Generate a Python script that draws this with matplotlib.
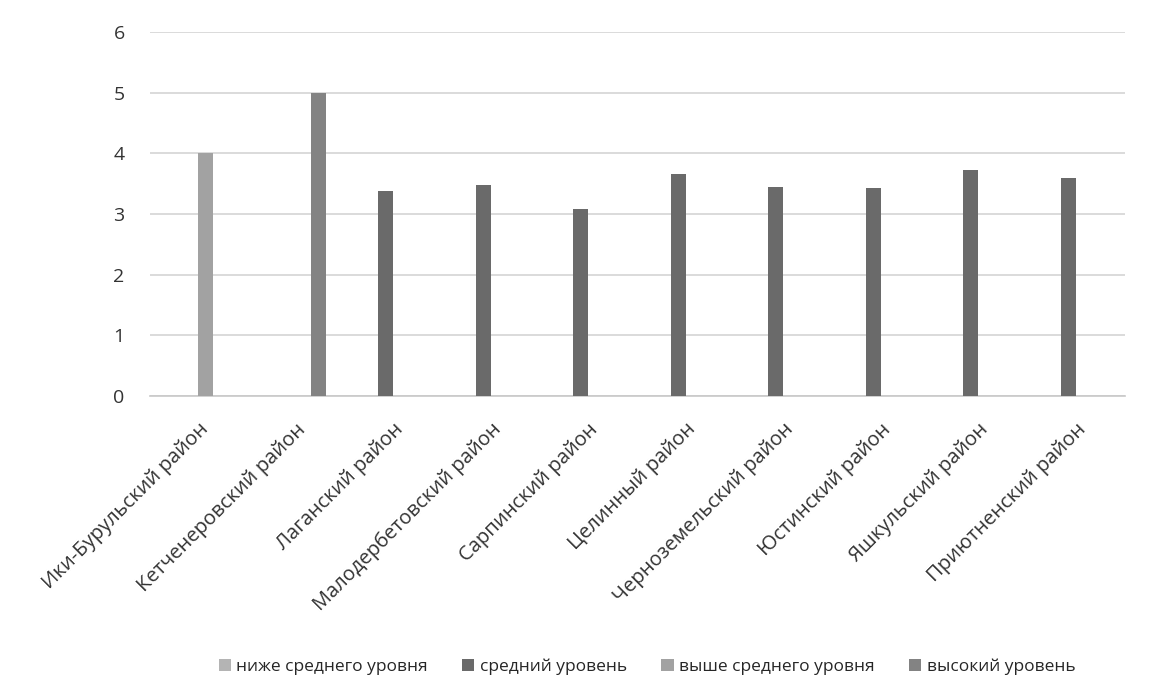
import matplotlib
matplotlib.use("Agg")
import matplotlib.pyplot as plt
import numpy as np

# Данные
districts = ["Ики-Бурульский район", "Кетченеровский район", "Лаганский район",
             "Малодербетовский район", "Сарпинский район", "Целинный район",
             "Черноземельский район", "Юстинский район", "Яшкульский район",
             "Приютненский район"]
series_names = ["ниже среднего уровня", "средний уровень",
                "выше среднего уровня", "высокий уровень"]
below_avg = [0, 0, 0, 0, 0, 0, 0, 0, 0, 0]
average = [0, 0, 3.38, 3.48, 3.08, 3.66, 3.45, 3.43, 3.72, 3.6]
above_avg = [4.0, 0, 0, 0, 0, 0, 0, 0, 0, 0]
high = [0, 5.0, 0, 0, 0, 0, 0, 0, 0, 0]

colors = ["#b4b4b4", "#6a6a6a", "#a2a2a2", "#838383"]

plt.rcParams['font.family'] = ['Open Sans', 'DejaVu Sans']

fig = plt.figure(figsize=(11.51, 6.97), dpi=100)
ax = fig.add_axes([0.130, 0.432, 0.847, 0.522])

x = np.arange(len(districts))
w = 0.155
for i, (vals, name, c) in enumerate(zip([below_avg, average, above_avg, high], series_names, colors)):
    ax.bar(x + (i - 1.5) * w, vals, width=w, color=c, label=name, zorder=3)

ax.set_xlim(-0.5, len(districts) - 0.5)
ax.set_ylim(0, 6)
ax.set_yticks(range(0, 7))
ax.yaxis.grid(True, color='#d4d4d4', linewidth=1.2, zorder=0)
for s in ['top', 'right', 'left']:
    ax.spines[s].set_visible(False)
ax.spines['bottom'].set_color('#c8c8c8')
ax.spines['bottom'].set_linewidth(1.2)
ax.tick_params(axis='y', length=0, labelsize=14, colors='#333333', pad=18)
ax.set_xticks(x)
ax.set_xticklabels(districts, rotation=45, ha='right', rotation_mode='anchor')
ax.tick_params(axis='x', length=0, labelsize=14.5, colors='#333333', pad=17)

fig.legend(loc='center', bbox_to_anchor=(0.562, 0.043), ncol=4, frameon=False,
           fontsize=12.5, handlelength=0.7, handleheight=0.7, handletextpad=0.3,
           columnspacing=2.0, labelcolor='#262626')

fig.savefig("out.png", dpi=100, facecolor='white')
